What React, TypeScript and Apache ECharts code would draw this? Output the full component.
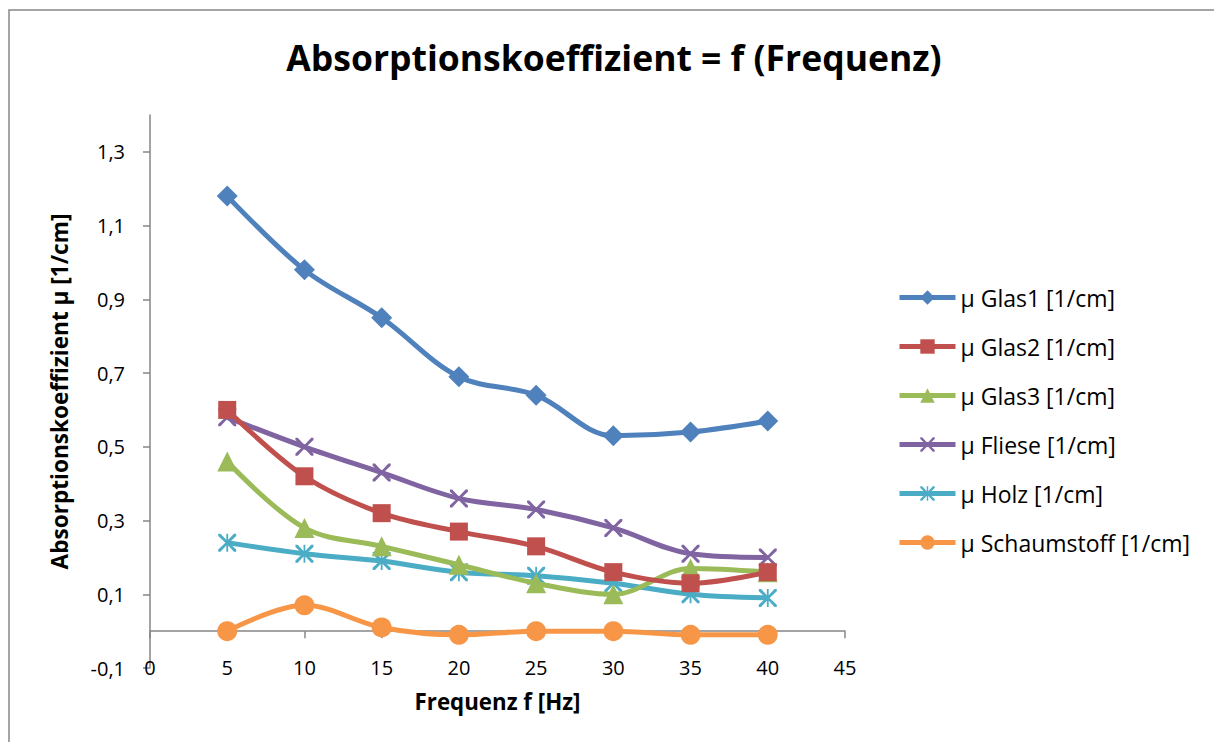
import React, { useEffect, useRef } from "react";
import * as echarts from "echarts";

const freq = [5, 10, 15, 20, 25, 30, 35, 40];
const glas1 = [1.18, 0.98, 0.85, 0.69, 0.64, 0.53, 0.54, 0.57];
const glas2 = [0.6, 0.42, 0.32, 0.27, 0.23, 0.16, 0.13, 0.16];
const glas3 = [0.46, 0.28, 0.23, 0.18, 0.13, 0.1, 0.17, 0.16];
const fliese = [0.58, 0.5, 0.43, 0.36, 0.33, 0.28, 0.21, 0.2];
const holz = [0.24, 0.21, 0.19, 0.16, 0.15, 0.13, 0.1, 0.09];
const schaum = [0.0, 0.07, 0.01, -0.01, 0.0, 0.0, -0.01, -0.01];
const seriesNames = [
  "μ Glas1 [1/cm]",
  "μ Glas2 [1/cm]",
  "μ Glas3 [1/cm]",
  "μ Fliese [1/cm]",
  "μ Holz [1/cm]",
  "μ Schaumstoff [1/cm]",
];
const yTicks = [-0.1, 0.1, 0.3, 0.5, 0.7, 0.9, 1.1, 1.3];

const colors = ["#4F81BD", "#C0504D", "#9BBB59", "#8064A2", "#4BACC6", "#F79646"];
const X_PATH =
  "path://M0,0 L2.5,0 L10,8 L17.5,0 L20,0 L20,2.5 L12,10 L20,17.5 L20,20 L17.5,20 L10,12 L2.5,20 L0,20 L0,17.5 L8,10 L0,2.5 Z";
const STAR_PATH =
  "path://M0,0 L2.5,0 L10,8 L17.5,0 L20,0 L20,2.5 L12,10 L20,17.5 L20,20 L17.5,20 L10,12 L2.5,20 L0,20 L0,17.5 L8,10 L0,2.5 Z M9,0 L11,0 L11,20 L9,20 Z";
const symbols = ["diamond", "rect", "triangle", X_PATH, STAR_PATH, "circle"];
const symbolSizes = [21, 18, 20, 18, 18, 20];

const FONT = "'Open Sans', sans-serif";

export default function App() {
  const ref = useRef<HTMLDivElement>(null);
  useEffect(() => {
    document.body.style.margin = "0";
    const chart = echarts.init(ref.current!, null, { renderer: "svg" });
    const datasets = [glas1, glas2, glas3, fliese, holz, schaum];
    const scaleX = { type: "value", min: 0, max: 45, interval: 5 };
    chart.setOption({
      animation: false,
      color: colors,
      textStyle: { fontFamily: FONT },
      title: {
        text: "Absorptionskoeffizient = f (Frequenz)",
        left: 609,
        top: 34,
        textAlign: "center",
        textStyle: { fontSize: 35.5, fontWeight: "bold", color: "#000", fontFamily: FONT },
      },
      graphic: [
        {
          type: "rect",
          shape: { x: 9, y: 10, width: 1400, height: 900 },
          style: { fill: "none", stroke: "#888888", lineWidth: 1.5 },
          silent: true,
        },
      ],
      legend: {
        orient: "vertical",
        left: 892,
        top: 281,
        itemWidth: 56,
        itemHeight: 18,
        itemGap: 26,
        lineStyle: { width: 5 },
        textStyle: { fontSize: 23, color: "#000", fontFamily: FONT, lineHeight: 22 },
        data: seriesNames,
      },
      grid: { left: 150, right: 369, top: 115, bottom: 74, containLabel: false, outerBoundsMode: "none" },
      xAxis: [
        {
          ...scaleX,
          position: "bottom",
          name: "Frequenz f [Hz]",
          nameLocation: "middle",
          nameGap: 22,
          nameMoveOverlap: false,
          nameTextStyle: { fontSize: 22.3, fontWeight: "bold", color: "#000", fontFamily: FONT },
          axisLine: { show: false, onZero: false },
          axisTick: { show: false },
          axisLabel: { fontSize: 20, color: "#000", margin: -11, fontFamily: FONT },
          splitLine: { show: false },
        },
        {
          ...scaleX,
          position: "bottom",
          axisLine: { show: true, onZero: true, lineStyle: { color: "#868686", width: 1.5 } },
          axisTick: { show: true, length: 7, lineStyle: { color: "#868686", width: 1.5 } },
          axisLabel: { show: false },
          splitLine: { show: false },
        },
      ],
      yAxis: {
        type: "value",
        min: -0.1,
        max: 1.4,
        name: "Absorptionskoeffizient µ [1/cm]",
        nameLocation: "middle",
        nameRotate: 90,
        nameGap: 79,
        nameMoveOverlap: false,
        nameTextStyle: { fontSize: 22.6, fontWeight: "bold", color: "#000", fontFamily: FONT },
        axisLine: { show: true, onZero: false, lineStyle: { color: "#868686", width: 1.5 } },
        axisTick: {
          show: true,
          length: 7,
          customValues: yTicks,
          lineStyle: { color: "#868686", width: 1.5 },
        },
        axisLabel: {
          fontSize: 20,
          color: "#000",
          margin: 25,
          fontFamily: FONT,
          customValues: yTicks,
          formatter: (v: number) => v.toFixed(1).replace(".", ","),
        },
        splitLine: { show: false },
      },
      series: datasets.map((d, i) => ({
        name: seriesNames[i],
        type: "line",
        xAxisIndex: 0,
        smooth: 0.35,
        symbol: symbols[i],
        symbolSize: symbolSizes[i],
        showAllSymbol: true,
        lineStyle: { width: 5, color: colors[i] },
        itemStyle: { color: colors[i], borderWidth: 0 },
        data: freq.map((f, j) => [f, d[j]]),
        z: 10 - i,
      })),
    });
    return () => chart.dispose();
  }, []);
  return <div ref={ref} style={{ width: 1214, height: 742 }} />;
}
